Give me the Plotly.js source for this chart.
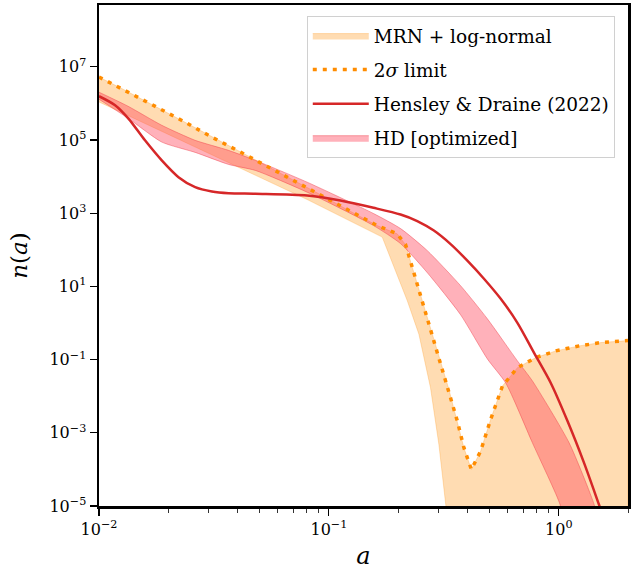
<!DOCTYPE html>
<html>
<head>
<meta charset="utf-8">
<script src="https://cdn.plot.ly/plotly-3.0.1.min.js"></script>
<style>html,body{margin:0;padding:0;background:#fff;}#chart{width:640px;height:570px;}</style>
</head>
<body>
<div id="chart"></div>
<script>
// Hensley & Draine (2022)
const hdX = [0.01,0.01175,0.01343,0.01585,0.01875,0.02217,0.0262,0.03097,0.0366,0.04786,0.0804,0.1122,0.1563,0.205,0.2423,0.2861,0.3384,0.4001,0.4726,0.559,0.6607,0.7806,0.9228,1.0911,1.2888,1.4938,1.55];
const hdY = [1.574e6,8.93e5,3.855e5,9.82e4,2.78e4,9.68e3,5.15e3,3.94e3,3.53e3,3.40e3,3.05e3,2.23e3,1.41e3,920,611,336,143.3,50.6,16.26,4.60,1.012,0.1528,0.0230,2.09e-3,1.479e-4,1.114e-5,5.8e-6];

// 2 sigma limit (upper edge of MRN + log-normal band)
const sigX = [0.01,0.01256,0.01698,0.0233,0.03148,0.04254,0.06457,0.0888,0.12,0.1622,0.1982,0.2155,0.2227,0.2305,0.2463,0.2633,0.2816,0.3009,0.3326,0.362,0.3867,0.4166,0.4571,0.5055,0.5686,0.661,0.7943,0.9705,1.225,1.523,1.926,2.0];
const sigY = [5.26e6,2.56e6,9.33e5,3.25e5,1.135e5,4.24e4,1.033e4,3.62e3,1.262e3,460,273,138.7,69.3,33.2,8.49,2.16,0.497,0.1262,0.01545,2.094e-3,3.88e-4,9.93e-5,3.155e-4,2.33e-3,0.0190,0.0604,0.1135,0.173,0.237,0.292,0.325,0.331];

// MRN + log-normal lower edge
const mrnLowX = [0.01,0.04786,0.0804,0.1706,0.1916,0.2193,0.2463,0.2767,0.3009,0.3223,0.345,2.0];
const mrnLowY = [1.099e6,1.079e4,2.371e3,222.8,33.2,4.055,0.497,0.0171,4.81e-4,1.09e-5,3.2e-7,1e-8];

// HD [optimized] band
const optUpX = [0.01,0.01338,0.01875,0.0262,0.0366,0.04786,0.0804,0.1563,0.205,0.268,0.374,0.489,0.661,0.768,1.109,1.425,1.46];
const optUpY = [2.03e6,8.38e5,2.53e5,9.82e4,5.22e4,2.78e4,7.06e3,982,381,95.1,10.45,1.303,0.0920,0.0261,5.32e-4,1.09e-5,5.0e-6];
const optLowX = [0.01,0.01338,0.01875,0.0262,0.0366,0.04786,0.0804,0.1563,0.205,0.268,0.374,0.489,0.5876,0.768,1.013,1.03];
const optLowY = [1.303e6,3.94e5,8.81e4,4.60e4,2.16e4,1.479e4,3.76e3,460,147.9,23.7,1.679,0.1045,0.0230,5.32e-4,1.09e-5,5.0e-6];

// Ticks
const xTickVals = [0.01,0.1,1];
const xTickText = ['10<sup>\u22122</sup>','10<sup>\u22121</sup>','10<sup>0</sup>'];
const xMinorVals = [0.02,0.03,0.04,0.05,0.06,0.07,0.08,0.09,0.2,0.3,0.4,0.5,0.6,0.7,0.8,0.9,2];
const yTickVals = [1e-5,1e-3,1e-1,1e1,1e3,1e5,1e7];
const yTickText = ['10<sup>\u22125</sup>','10<sup>\u22123</sup>','10<sup>\u22121</sup>','10<sup>1</sup>','10<sup>3</sup>','10<sup>5</sup>','10<sup>7</sup>'];

const serif = 'DejaVu Serif';

const poly = (ux, uy, lx, ly) => ({
  x: ux.concat(lx.slice().reverse()),
  y: uy.concat(ly.slice().reverse())
});
const mrnPoly = poly(sigX, sigY, mrnLowX, mrnLowY);
const optPoly = poly(optUpX, optUpY, optLowX, optLowY);

const traces = [
  {x: mrnPoly.x, y: mrnPoly.y, type:'scatter', mode:'lines', fill:'toself',
   fillcolor:'rgba(255,140,0,0.3)', line:{color:'rgba(255,140,0,0.25)', width:1},
   name:'MRN + log-normal', legendrank:1, legendgroup:'g1', hoverinfo:'skip'},
  {x: optPoly.x, y: optPoly.y, type:'scatter', mode:'lines', fill:'toself',
   fillcolor:'rgba(255,70,90,0.42)', line:{color:'rgba(240,60,70,0.45)', width:1, shape:'spline', smoothing:0.6},
   name:'HD [optimized]', legendrank:4, legendgroup:'g4', hoverinfo:'skip'},
  {x: sigX, y: sigY, type:'scatter', mode:'lines',
   line:{color:'#ff8c00', width:3.5, dash:'4px,6px'}, name:'2<i>\u03c3</i> limit', legendrank:2, legendgroup:'g2'},
  {x: hdX, y: hdY, type:'scatter', mode:'lines', line:{color:'#d62728', width:2.5, shape:'spline', smoothing:0.8},
   name:'Hensley &amp; Draine (2022)', legendrank:3, legendgroup:'g3'}
];

const layout = {
  width:640, height:570,
  margin:{l:99, r:12, t:5, b:64},
  paper_bgcolor:'#fff', plot_bgcolor:'#fff',
  font:{family:serif, color:'#000'},
  showlegend:true,
  legend:{x:0.975, xanchor:'right', y:0.978, yanchor:'top',
    bgcolor:'rgba(255,255,255,0.85)', bordercolor:'#d0d0d0', borderwidth:1,
    font:{family:serif, size:18.5, color:'#000'}, tracegroupgap:7, itemwidth:56},
  xaxis:{type:'log', range:[-2, Math.log10(2)], showgrid:false, zeroline:false,
    showline:true, linecolor:'#000', linewidth:2.5, mirror:true,
    ticks:'outside', ticklen:7, tickwidth:1.2, tickcolor:'#000',
    tickmode:'array', tickvals:xTickVals, ticktext:xTickText,
    minor:{tickmode:'array', tickvals:xMinorVals, ticks:'outside', ticklen:4, tickwidth:0.8, tickcolor:'#000', showgrid:false},
    tickfont:{family:serif, size:16, color:'#000'},
    title:{text:'<i>a</i>', font:{family:serif, size:24, color:'#000'}, standoff:16}},
  yaxis:{type:'log', range:[-5, 8.69], showgrid:false, zeroline:false,
    showline:true, linecolor:'#000', linewidth:2.5, mirror:true,
    ticks:'outside', ticklen:7, tickwidth:1.2, tickcolor:'#000',
    tickmode:'array', tickvals:yTickVals, ticktext:yTickText,
    tickfont:{family:serif, size:16, color:'#000'},
    title:{text:'<i>n</i>(<i>a</i>)', font:{family:serif, size:23, color:'#000'}, standoff:16}}
};

Plotly.newPlot('chart', traces, layout, {displayModeBar:false, staticPlot:true});
</script>
</body>
</html>
